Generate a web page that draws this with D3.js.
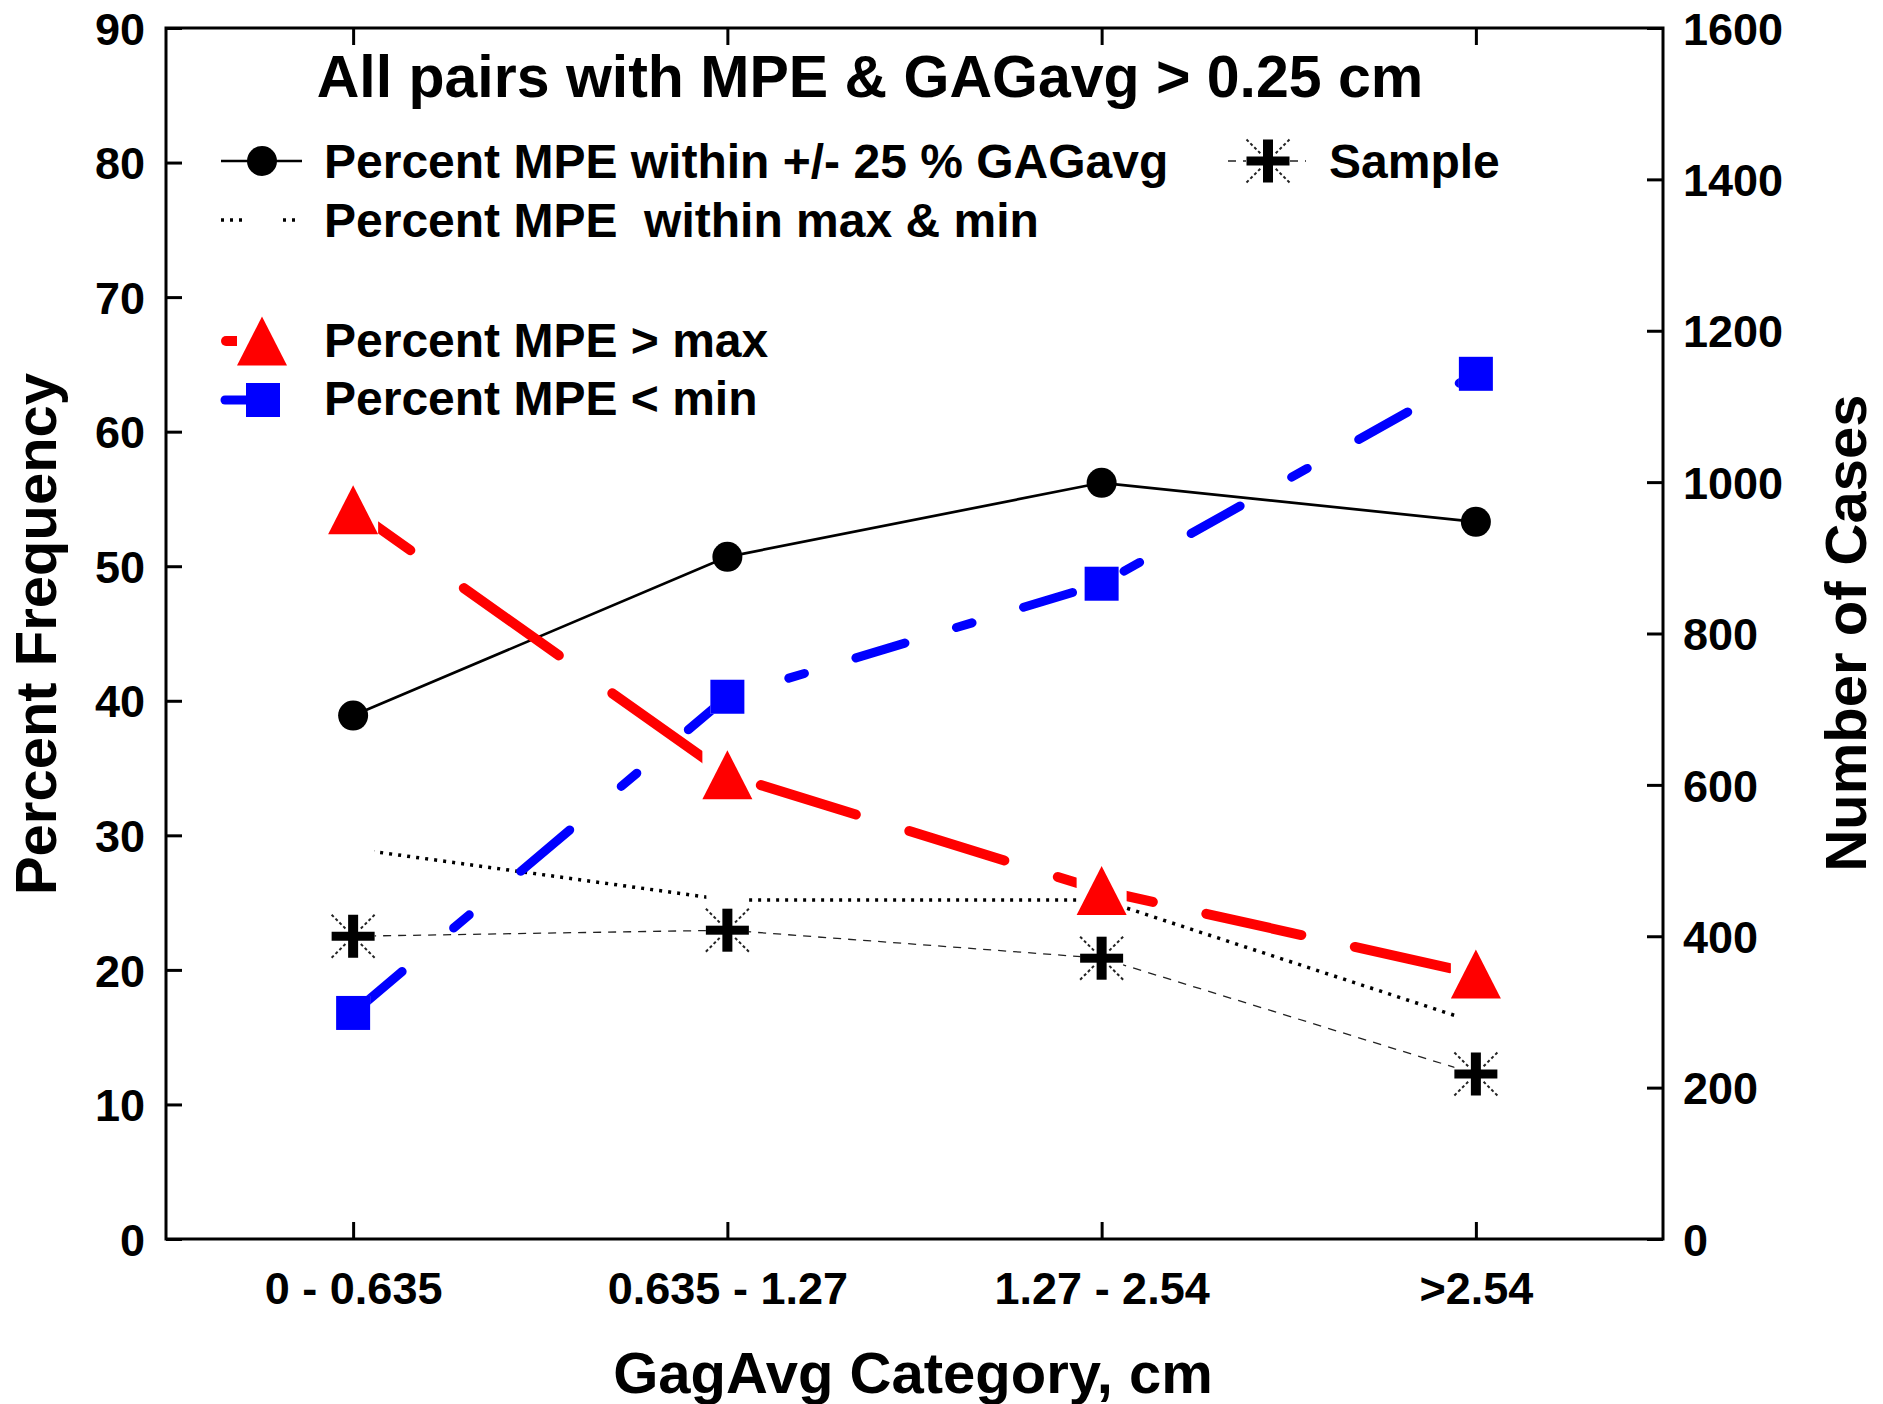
<!DOCTYPE html>
<html>
<head>
<meta charset="utf-8">
<script src="https://cdn.jsdelivr.net/npm/d3@7"></script>
<style>
  body { margin: 0; background: #fff; }
  svg text { font-family: "Liberation Sans", Arial, sans-serif; font-weight: bold; fill: #000; }
</style>
</head>
<body>
<svg id="chart" width="1883" height="1404"></svg>
<script>
// data
const categories = ["0 - 0.635", "0.635 - 1.27", "1.27 - 2.54", ">2.54"];
const pctWithin25 = [38.9, 50.7, 56.2, 53.3];      // black solid, circles
const pctWithinMaxMin = [29.0, 25.2, 25.2, 16.1];  // black dotted, no symbol
const pctAboveMax = [54.2, 34.5, 25.9, 19.7];      // red dashed, triangles
const pctBelowMin = [16.8, 40.3, 48.7, 64.3];      // blue dash-dot, squares
const sampleCount = [400, 408, 371, 218];          // right axis, stars
const leftTicks = [0, 10, 20, 30, 40, 50, 60, 70, 80, 90];
const rightTicks = [0, 200, 400, 600, 800, 1000, 1200, 1400, 1600];

const W = 1883, H = 1404;
const plot = { left: 166, right: 1663, top: 28, bottom: 1239 };

const svg = d3.select("#chart");
const defs = svg.append("defs");

// scales
const x = d3.scalePoint().domain(categories).range([plot.left, plot.right]).padding(0.5);
const y = d3.scaleLinear().domain([0, 90]).range([plot.bottom, plot.top]);
const yR = d3.scaleLinear().domain([0, 1600]).range([plot.bottom, plot.top]);

// axes (ticks point inward)
function styleAxis(g, size) {
  g.attr("font-size", size).attr("font-family", null);
  g.select(".domain").remove();
  g.selectAll(".tick line").attr("stroke", "#000").attr("stroke-width", 3);
}

svg.append("g")
  .attr("transform", `translate(${plot.left},0)`)
  .call(d3.axisLeft(y).tickValues(leftTicks).tickSize(-16).tickPadding(21).tickFormat(d3.format("d")))
  .call(g => styleAxis(g, 45))
  .selectAll("text").attr("dy", "0.36em");

svg.append("g")
  .attr("transform", `translate(${plot.right},0)`)
  .call(d3.axisRight(yR).tickValues(rightTicks).tickSize(-16).tickPadding(20).tickFormat(d3.format("d")))
  .call(g => styleAxis(g, 45))
  .selectAll("text").attr("dy", "0.36em");

svg.append("g")
  .attr("transform", `translate(0,${plot.bottom})`)
  .call(d3.axisBottom(x).tickSize(-17).tickPadding(33))
  .call(g => styleAxis(g, 45));

svg.append("g")
  .attr("transform", `translate(0,${plot.top})`)
  .call(d3.axisTop(x).tickSize(-17).tickFormat(() => ""))
  .call(g => styleAxis(g, 45));

// frame
svg.append("rect")
  .attr("x", plot.left).attr("y", plot.top)
  .attr("width", plot.right - plot.left).attr("height", plot.bottom - plot.top)
  .attr("fill", "none").attr("stroke", "#000").attr("stroke-width", 3);

// lines are cut out around their own symbols (like the original)
function makeMask(id, pts, hw, hh) {
  const m = defs.append("mask").attr("id", id)
    .attr("maskUnits", "userSpaceOnUse")
    .attr("x", 0).attr("y", 0).attr("width", W).attr("height", H);
  m.append("rect").attr("width", W).attr("height", H).attr("fill", "white");
  m.selectAll("rect.hole").data(pts).join("rect").attr("class", "hole")
    .attr("x", d => d[0] - hw).attr("y", d => d[1] - hh)
    .attr("width", hw * 2).attr("height", hh * 2).attr("fill", "black");
}

function points(vals, scale) {
  return vals.map((v, i) => [x(categories[i]), scale(v)]);
}

const line = d3.line();

// dash patterns are measured along x (as the original program does),
// so each segment gets its own stretched pattern and a running phase
const series = [
  { id: "sample", pts: points(sampleCount, yR), stroke: "#222", width: 1.3, dash: [8, 7], phase: 0, cap: "butt", box: [21.5, 21.5] },
  { id: "maxmin", pts: points(pctWithinMaxMin, y), stroke: "#000", width: 3.5, dash: [3, 6], phase: 0, cap: "butt", box: [21, 21] },
  { id: "within", pts: points(pctWithin25, y), stroke: "#000", width: 2.7, dash: null, cap: "butt", box: null },
  { id: "above", pts: points(pctAboveMax, y), stroke: "#ff0000", width: 10, dash: [95, 53.5], phase: 37.8, cap: "round", box: [25, 24.5] },
  { id: "below", pts: points(pctBelowMin, y), stroke: "#0000ff", width: 9, dash: [49, 51.5, 15.6, 51.5], phase: 0, cap: "round", box: [17, 17] }
];

series.forEach(s => {
  if (s.box) makeMask("m-" + s.id, s.pts, s.box[0], s.box[1]);
  const g = svg.append("g");
  if (s.box) g.attr("mask", `url(#m-${s.id})`);
  if (!s.dash) {
    g.append("path").attr("d", line(s.pts))
      .attr("fill", "none").attr("stroke", s.stroke).attr("stroke-width", s.width);
    return;
  }
  const x0 = s.pts[0][0];
  for (let i = 0; i < s.pts.length - 1; i++) {
    const a = s.pts[i], b = s.pts[i + 1];
    const f = Math.hypot(b[0] - a[0], b[1] - a[1]) / (b[0] - a[0]);
    g.append("path").attr("d", line([a, b]))
      .attr("fill", "none")
      .attr("stroke", s.stroke)
      .attr("stroke-width", s.width)
      .attr("stroke-linecap", s.cap)
      .attr("stroke-dasharray", s.dash.map(v => v * f).join(" "))
      .attr("stroke-dashoffset", (s.phase + a[0] - x0) * f);
  }
});

// symbols
function star(g, cx, cy) {
  const r = 21.5, inner = 7;
  [[-1, -1], [1, -1], [-1, 1], [1, 1]].forEach(([dx, dy]) => {
    g.append("line")
      .attr("x1", cx + dx * r).attr("y1", cy + dy * r)
      .attr("x2", cx + dx * inner).attr("y2", cy + dy * inner)
      .attr("stroke", "#222").attr("stroke-width", 2).attr("stroke-dasharray", "3 2.5");
  });
  g.append("rect").attr("x", cx - r).attr("y", cy - 4.5).attr("width", 2 * r).attr("height", 9).attr("fill", "#000");
  g.append("rect").attr("x", cx - 5).attr("y", cy - r).attr("width", 10).attr("height", 2 * r).attr("fill", "#000");
}
function triangle(g, cx, cy) {
  g.append("path")
    .attr("d", `M${cx},${cy - 24.5}L${cx + 25},${cy + 24.5}L${cx - 25},${cy + 24.5}Z`)
    .attr("fill", "#ff0000");
}
function square(g, cx, cy) {
  g.append("rect").attr("x", cx - 17).attr("y", cy - 17).attr("width", 34).attr("height", 34).attr("fill", "#0000ff");
}
function dot(g, cx, cy) {
  g.append("circle").attr("cx", cx).attr("cy", cy).attr("r", 15).attr("fill", "#000");
}

const marks = svg.append("g");
series[0].pts.forEach(p => star(marks, p[0], p[1]));
series[2].pts.forEach(p => dot(marks, p[0], p[1]));
series[3].pts.forEach(p => triangle(marks, p[0], p[1]));
series[4].pts.forEach(p => square(marks, p[0], p[1]));

// title
svg.append("text").attr("x", 870).attr("y", 97).attr("text-anchor", "middle")
  .attr("font-size", 59).text("All pairs with MPE & GAGavg > 0.25 cm");

// legend
const lg = svg.append("g");
const legendText = (tx, ty, label) => lg.append("text").attr("x", tx).attr("y", ty)
  .attr("font-size", 48).style("white-space", "pre").text(label);

lg.append("line").attr("x1", 221).attr("x2", 302).attr("y1", 161).attr("y2", 161)
  .attr("stroke", "#000").attr("stroke-width", 2.7);
dot(lg, 262, 161);
legendText(324, 178, "Percent MPE within +/- 25 % GAGavg");

lg.append("line").attr("x1", 1228).attr("x2", 1246).attr("y1", 161).attr("y2", 161)
  .attr("stroke", "#222").attr("stroke-width", 1.3).attr("stroke-dasharray", "8 7");
lg.append("line").attr("x1", 1290).attr("x2", 1306).attr("y1", 161).attr("y2", 161)
  .attr("stroke", "#222").attr("stroke-width", 1.3).attr("stroke-dasharray", "8 7");
star(lg, 1268, 161);
legendText(1329, 178, "Sample");

lg.append("line").attr("x1", 221).attr("x2", 242).attr("y1", 220).attr("y2", 220)
  .attr("stroke", "#000").attr("stroke-width", 3.5).attr("stroke-dasharray", "3 6");
lg.append("line").attr("x1", 283).attr("x2", 298).attr("y1", 220).attr("y2", 220)
  .attr("stroke", "#000").attr("stroke-width", 3.5).attr("stroke-dasharray", "3 6");
legendText(324, 237, "Percent MPE  within max & min");

lg.append("line").attr("x1", 226).attr("x2", 238).attr("y1", 341).attr("y2", 341)
  .attr("stroke", "#ff0000").attr("stroke-width", 10).attr("stroke-linecap", "round");
lg.append("rect").attr("x", 237).attr("y", 330).attr("width", 10).attr("height", 22).attr("fill", "#fff");
triangle(lg, 262, 341);
legendText(324, 357, "Percent MPE > max");

lg.append("line").attr("x1", 225).attr("x2", 246).attr("y1", 400).attr("y2", 400)
  .attr("stroke", "#0000ff").attr("stroke-width", 9).attr("stroke-linecap", "round");
square(lg, 263, 400);
legendText(324, 415, "Percent MPE < min");

// axis titles
svg.append("text").attr("x", 913).attr("y", 1393).attr("text-anchor", "middle")
  .attr("font-size", 58).text("GagAvg Category, cm");
svg.append("text").attr("transform", "translate(56,634) rotate(-90)").attr("text-anchor", "middle")
  .attr("font-size", 58).text("Percent Frequency");
svg.append("text").attr("transform", "translate(1866,633) rotate(-90)").attr("text-anchor", "middle")
  .attr("font-size", 58).text("Number of Cases");
</script>
</body>
</html>
